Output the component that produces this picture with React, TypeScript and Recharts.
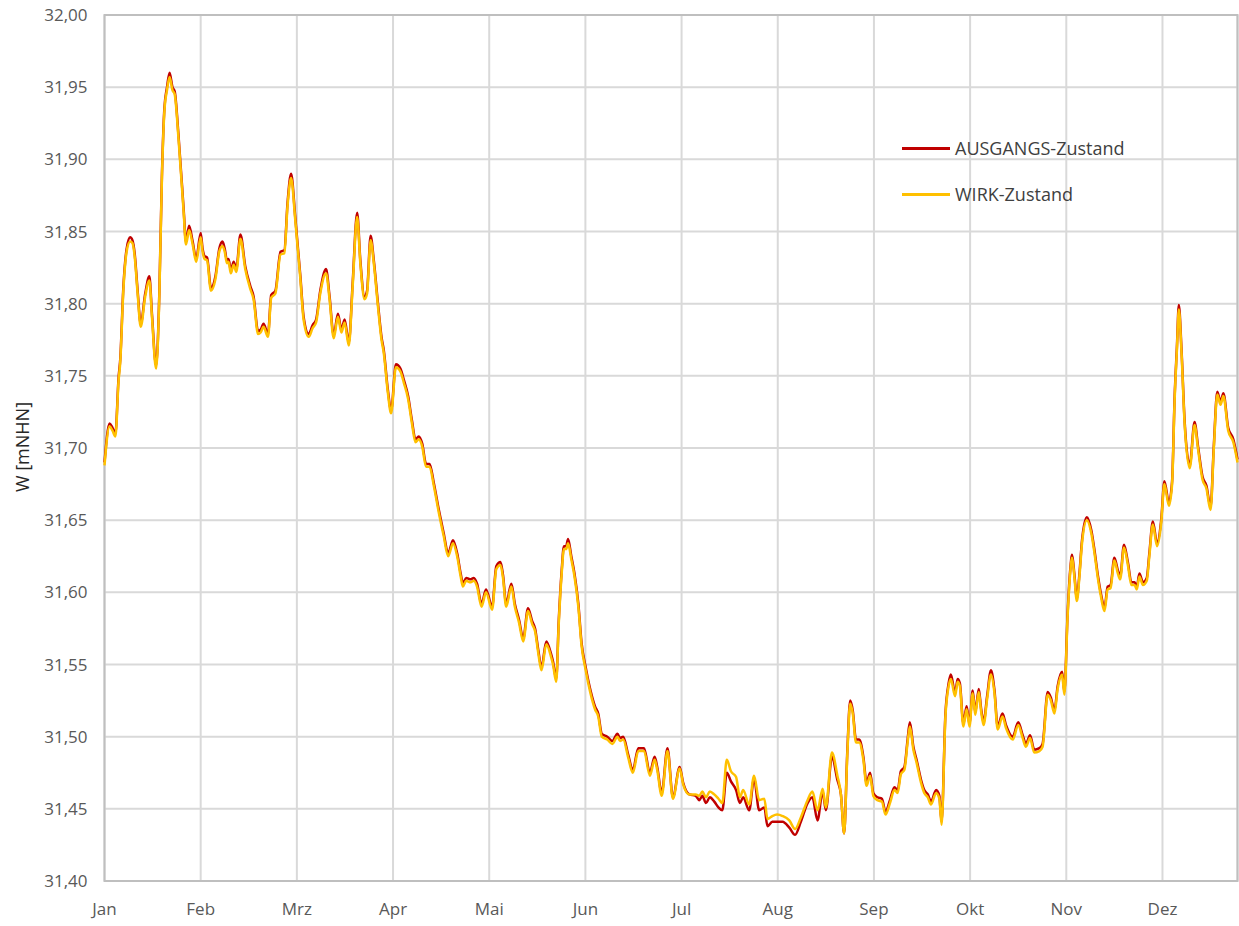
import { LineChart, Line, XAxis, YAxis, CartesianGrid, Legend, ReferenceArea } from "recharts";

// Wasserstand W [mNHN], Tageswerte (Tag ab Jahresbeginn, 30 Tage je Monatsraster)
const monate = ["Jan", "Feb", "Mrz", "Apr", "Mai", "Jun", "Jul", "Aug", "Sep", "Okt", "Nov", "Dez"];
const monatsTicks = [0, 30, 60, 90, 120, 150, 180, 210, 240, 270, 300, 330, 353.4];
const wTicks = [31.4, 31.45, 31.5, 31.55, 31.6, 31.65, 31.7, 31.75, 31.8, 31.85, 31.9, 31.95, 32.0];

const ausgangsZustand: [number, number][] = [
  [0, 31.690], [1.6, 31.717], [2.5, 31.714], [3.4, 31.710], [4.4, 31.749], [4.9, 31.761], [5.9, 31.812], [6.9, 31.838],
  [8.0, 31.846], [8.7, 31.844], [9.4, 31.835], [10.3, 31.810], [11.3, 31.786], [12.7, 31.807], [14.0, 31.819], [14.8, 31.793],
  [16.1, 31.757], [17.1, 31.807], [17.9, 31.888], [18.7, 31.936], [19.5, 31.950], [20.3, 31.960], [21.2, 31.950], [21.9, 31.947],
  [23.1, 31.916], [24.7, 31.865], [25.4, 31.843], [26.4, 31.854], [27.5, 31.843], [28.6, 31.831], [30.0, 31.849], [30.6, 31.838],
  [31.2, 31.833], [32.0, 31.832], [33.2, 31.811], [34.6, 31.819], [35.8, 31.838], [36.8, 31.843], [37.5, 31.838], [38.2, 31.830],
  [38.7, 31.831], [39.4, 31.823], [40.3, 31.829], [41.1, 31.824], [42.4, 31.848], [43.9, 31.826], [45.5, 31.812], [46.5, 31.805],
  [47.9, 31.781], [48.7, 31.782], [49.6, 31.786], [51.0, 31.779], [52.0, 31.806], [53.3, 31.809], [54.9, 31.836], [56.1, 31.837],
  [57.1, 31.870], [58.2, 31.890], [59.5, 31.860], [61.1, 31.819], [62.1, 31.791], [63.7, 31.779], [64.9, 31.785], [66.0, 31.789],
  [67.3, 31.809], [69.1, 31.824], [70.2, 31.805], [71.5, 31.778], [72.8, 31.793], [73.9, 31.782], [74.9, 31.789], [76.2, 31.773],
  [77.4, 31.814], [78.8, 31.863], [79.8, 31.830], [81.1, 31.805], [81.9, 31.809], [83.0, 31.847], [84.0, 31.830], [85.3, 31.800],
  [86.4, 31.777], [87.1, 31.768], [88.4, 31.740], [89.4, 31.726], [90.9, 31.758], [92.3, 31.755], [93.4, 31.747], [94.7, 31.736],
  [95.9, 31.719], [97.0, 31.706], [98.0, 31.708], [99.1, 31.703], [100.3, 31.689], [101.4, 31.689], [102.7, 31.676], [104.3, 31.657],
  [105.8, 31.641], [107.2, 31.627], [108.7, 31.636], [110.0, 31.627], [111.1, 31.613], [111.8, 31.606], [112.8, 31.610], [114.2, 31.609],
  [115.2, 31.610], [116.2, 31.606], [117.6, 31.592], [119.0, 31.602], [120.9, 31.590], [122.2, 31.618], [123.5, 31.621], [124.3, 31.612],
  [125.3, 31.592], [126.9, 31.606], [128.0, 31.592], [129.3, 31.581], [130.6, 31.568], [132.1, 31.589], [133.4, 31.580], [134.3, 31.575],
  [135.3, 31.560], [136.3, 31.548], [137.8, 31.566], [139.2, 31.558], [139.9, 31.552], [140.9, 31.540], [141.7, 31.581], [142.6, 31.615],
  [143.3, 31.632], [144.0, 31.632], [144.6, 31.637], [145.6, 31.625], [146.6, 31.613], [147.8, 31.592], [148.8, 31.565], [150.1, 31.548],
  [151.6, 31.532], [153.0, 31.521], [154.0, 31.516], [155.1, 31.502], [156.8, 31.500], [158.4, 31.497], [160.0, 31.502], [160.8, 31.499],
  [161.8, 31.500], [163.3, 31.488], [164.8, 31.477], [166.5, 31.492], [168.3, 31.492], [170.1, 31.475], [171.6, 31.486], [172.4, 31.479],
  [173.8, 31.461], [175.6, 31.492], [177.3, 31.458], [179.4, 31.479], [180.5, 31.468], [182.4, 31.460], [184.4, 31.459], [185.5, 31.456],
  [186.5, 31.459], [187.6, 31.454], [188.8, 31.458], [190.2, 31.455], [191.5, 31.451], [192.7, 31.449], [194.1, 31.475], [195.4, 31.469],
  [197.0, 31.463], [198.2, 31.454], [199.2, 31.458], [201.1, 31.449], [202.6, 31.471], [204.2, 31.449], [205.8, 31.451], [206.8, 31.438],
  [208.3, 31.441], [209.8, 31.441], [211.5, 31.441], [213.6, 31.437], [215.4, 31.432], [217.2, 31.441], [219.3, 31.454], [220.8, 31.458],
  [222.4, 31.442], [224.0, 31.462], [225.0, 31.449], [226.9, 31.486], [228.6, 31.470], [229.7, 31.460], [230.7, 31.433], [231.7, 31.490],
  [232.6, 31.525], [233.4, 31.518], [234.4, 31.498], [235.4, 31.498], [236.7, 31.486], [237.7, 31.468], [238.8, 31.475], [239.8, 31.461],
  [241.1, 31.458], [242.5, 31.457], [243.6, 31.448], [245.0, 31.456], [246.4, 31.465], [247.4, 31.463], [248.4, 31.476], [249.5, 31.479],
  [250.5, 31.498], [251.2, 31.510], [252.3, 31.493], [253.3, 31.484], [254.7, 31.470], [255.7, 31.463], [256.8, 31.460], [257.8, 31.455],
  [259.4, 31.463], [260.4, 31.459], [261.1, 31.441], [262.3, 31.516], [263.3, 31.537], [264.0, 31.543], [265.3, 31.530], [266.1, 31.540],
  [266.8, 31.537], [267.9, 31.509], [268.9, 31.521], [269.8, 31.509], [270.8, 31.532], [271.6, 31.517], [272.7, 31.533], [273.4, 31.520],
  [274.2, 31.510], [275.3, 31.528], [276.5, 31.546], [277.6, 31.532], [278.6, 31.507], [280.1, 31.516], [281.2, 31.508], [283.3, 31.500],
  [285.0, 31.510], [286.4, 31.501], [287.4, 31.495], [288.7, 31.501], [290.0, 31.491], [291.6, 31.492], [292.6, 31.495], [294.2, 31.531],
  [295.2, 31.527], [296.3, 31.518], [297.3, 31.535], [298.7, 31.545], [299.4, 31.531], [300.4, 31.585], [301.2, 31.615], [301.8, 31.626],
  [302.5, 31.613], [303.3, 31.596], [304.1, 31.613], [304.9, 31.636], [306.4, 31.652], [307.8, 31.643], [308.8, 31.629], [309.9, 31.611],
  [310.9, 31.598], [311.9, 31.589], [312.9, 31.604], [313.8, 31.605], [315.0, 31.624], [316.1, 31.615], [316.8, 31.611], [318.0, 31.633],
  [319.2, 31.621], [320.3, 31.607], [321.3, 31.607], [322.0, 31.604], [322.8, 31.613], [323.9, 31.607], [325.1, 31.610], [325.9, 31.627],
  [327.0, 31.649], [328.3, 31.634], [329.6, 31.650], [330.6, 31.677], [332.0, 31.662], [333.0, 31.677], [333.8, 31.736], [334.5, 31.770],
  [335.1, 31.799], [335.9, 31.770], [336.9, 31.719], [338.5, 31.688], [340.0, 31.718], [341.1, 31.701], [342.5, 31.680], [343.7, 31.674],
  [345.0, 31.659], [346.0, 31.701], [347.1, 31.739], [348.1, 31.732], [349.0, 31.738], [350.5, 31.714], [352.1, 31.706], [353.4, 31.692],
];

const wirkZustand: [number, number][] = [
  [0, 31.688], [1.6, 31.715], [2.5, 31.712], [3.4, 31.708], [4.4, 31.747], [4.9, 31.759], [5.9, 31.810], [6.9, 31.836],
  [8.0, 31.843], [8.7, 31.842], [9.4, 31.833], [10.3, 31.808], [11.3, 31.784], [12.7, 31.805], [14.0, 31.816], [14.8, 31.791],
  [16.1, 31.755], [17.1, 31.805], [17.9, 31.886], [18.7, 31.934], [19.5, 31.948], [20.3, 31.957], [21.2, 31.948], [21.9, 31.945],
  [23.1, 31.914], [24.7, 31.863], [25.4, 31.841], [26.4, 31.851], [27.5, 31.841], [28.6, 31.829], [30.0, 31.846], [30.6, 31.836],
  [31.2, 31.831], [32.0, 31.830], [33.2, 31.809], [34.6, 31.817], [35.8, 31.836], [36.8, 31.840], [37.5, 31.836], [38.2, 31.828],
  [38.7, 31.829], [39.4, 31.821], [40.3, 31.827], [41.1, 31.822], [42.4, 31.845], [43.9, 31.824], [45.5, 31.810], [46.5, 31.803],
  [47.9, 31.779], [48.7, 31.780], [49.6, 31.784], [51.0, 31.777], [52.0, 31.804], [53.3, 31.807], [54.9, 31.834], [56.1, 31.835],
  [57.1, 31.868], [58.2, 31.887], [59.5, 31.858], [61.1, 31.817], [62.1, 31.789], [63.7, 31.777], [64.9, 31.783], [66.0, 31.787],
  [67.3, 31.807], [69.1, 31.821], [70.2, 31.803], [71.5, 31.776], [72.8, 31.791], [73.9, 31.780], [74.9, 31.787], [76.2, 31.771],
  [77.4, 31.812], [78.8, 31.860], [79.8, 31.828], [81.1, 31.803], [81.9, 31.807], [83.0, 31.844], [84.0, 31.828], [85.3, 31.798],
  [86.4, 31.775], [87.1, 31.766], [88.4, 31.738], [89.4, 31.724], [90.9, 31.756], [92.3, 31.753], [93.4, 31.745], [94.7, 31.734],
  [95.9, 31.717], [97.0, 31.704], [98.0, 31.706], [99.1, 31.701], [100.3, 31.687], [101.4, 31.687], [102.7, 31.674], [104.3, 31.655],
  [105.8, 31.639], [107.2, 31.625], [108.7, 31.634], [110.0, 31.625], [111.1, 31.611], [111.8, 31.604], [112.8, 31.608], [114.2, 31.607],
  [115.2, 31.608], [116.2, 31.604], [117.6, 31.590], [119.0, 31.600], [120.9, 31.588], [122.2, 31.616], [123.5, 31.619], [124.3, 31.610],
  [125.3, 31.590], [126.9, 31.604], [128.0, 31.590], [129.3, 31.579], [130.6, 31.566], [132.1, 31.587], [133.4, 31.578], [134.3, 31.573],
  [135.3, 31.558], [136.3, 31.546], [137.8, 31.564], [139.2, 31.556], [139.9, 31.550], [140.9, 31.538], [141.7, 31.579], [142.6, 31.613],
  [143.3, 31.630], [144.0, 31.630], [144.6, 31.634], [145.6, 31.623], [146.6, 31.611], [147.8, 31.590], [148.8, 31.563], [150.1, 31.546],
  [151.6, 31.530], [153.0, 31.519], [154.0, 31.514], [155.1, 31.500], [156.8, 31.498], [158.4, 31.495], [160.0, 31.500], [160.8, 31.497],
  [161.8, 31.498], [163.3, 31.486], [164.8, 31.475], [166.5, 31.490], [168.3, 31.490], [170.1, 31.473], [171.6, 31.484], [172.4, 31.477],
  [173.8, 31.459], [175.6, 31.490], [177.3, 31.457], [179.4, 31.478], [180.5, 31.467], [182.4, 31.460], [184.4, 31.460], [185.5, 31.459],
  [186.5, 31.462], [187.6, 31.458], [188.8, 31.462], [190.2, 31.460], [191.5, 31.457], [192.7, 31.454], [194.1, 31.484], [195.4, 31.476],
  [197.0, 31.472], [198.2, 31.458], [199.2, 31.463], [201.1, 31.453], [202.6, 31.473], [204.2, 31.456], [205.8, 31.457], [206.8, 31.443],
  [208.3, 31.445], [209.8, 31.446], [211.5, 31.445], [213.6, 31.442], [215.4, 31.436], [217.2, 31.444], [219.3, 31.456], [220.8, 31.462],
  [222.4, 31.449], [224.0, 31.464], [225.0, 31.451], [226.9, 31.489], [228.6, 31.473], [229.7, 31.460], [230.7, 31.433], [231.7, 31.488],
  [232.6, 31.523], [233.4, 31.516], [234.4, 31.496], [235.4, 31.496], [236.7, 31.484], [237.7, 31.466], [238.8, 31.473], [239.8, 31.459],
  [241.1, 31.456], [242.5, 31.455], [243.6, 31.446], [245.0, 31.454], [246.4, 31.463], [247.4, 31.461], [248.4, 31.474], [249.5, 31.477],
  [250.5, 31.496], [251.2, 31.507], [252.3, 31.491], [253.3, 31.482], [254.7, 31.468], [255.7, 31.461], [256.8, 31.458], [257.8, 31.453],
  [259.4, 31.461], [260.4, 31.457], [261.1, 31.439], [262.3, 31.514], [263.3, 31.535], [264.0, 31.540], [265.3, 31.528], [266.1, 31.538],
  [266.8, 31.535], [267.9, 31.507], [268.9, 31.519], [269.8, 31.507], [270.8, 31.530], [271.6, 31.515], [272.7, 31.531], [273.4, 31.518],
  [274.2, 31.508], [275.3, 31.526], [276.5, 31.543], [277.6, 31.530], [278.6, 31.505], [280.1, 31.514], [281.2, 31.506], [283.3, 31.498],
  [285.0, 31.508], [286.4, 31.499], [287.4, 31.493], [288.7, 31.499], [290.0, 31.489], [291.6, 31.490], [292.6, 31.493], [294.2, 31.529],
  [295.2, 31.525], [296.3, 31.516], [297.3, 31.533], [298.7, 31.543], [299.4, 31.529], [300.4, 31.583], [301.2, 31.613], [301.8, 31.624],
  [302.5, 31.611], [303.3, 31.594], [304.1, 31.611], [304.9, 31.634], [306.4, 31.650], [307.8, 31.641], [308.8, 31.627], [309.9, 31.609],
  [310.9, 31.596], [311.9, 31.587], [312.9, 31.602], [313.8, 31.603], [315.0, 31.622], [316.1, 31.613], [316.8, 31.609], [318.0, 31.631],
  [319.2, 31.619], [320.3, 31.605], [321.3, 31.605], [322.0, 31.602], [322.8, 31.611], [323.9, 31.605], [325.1, 31.608], [325.9, 31.625],
  [327.0, 31.647], [328.3, 31.632], [329.6, 31.648], [330.6, 31.675], [332.0, 31.660], [333.0, 31.675], [333.8, 31.734], [334.5, 31.768],
  [335.1, 31.796], [335.9, 31.768], [336.9, 31.717], [338.5, 31.686], [340.0, 31.716], [341.1, 31.699], [342.5, 31.678], [343.7, 31.672],
  [345.0, 31.657], [346.0, 31.699], [347.1, 31.737], [348.1, 31.730], [349.0, 31.736], [350.5, 31.712], [352.1, 31.704], [353.4, 31.690],
];

const serien = [
  { name: "AUSGANGS-Zustand", farbe: "#C00000", werte: ausgangsZustand },
  { name: "WIRK-Zustand", farbe: "#FFC000", werte: wirkZustand },
];

const FONT = "'Open Sans', 'Liberation Sans', sans-serif";

function Legende() {
  return (
    <div style={{ fontFamily: FONT, fontSize: 18, color: "#404040" }}>
      {serien.map((s) => (
        <div key={s.name} style={{ display: "flex", alignItems: "center", height: 46 }}>
          <span style={{ display: "inline-block", width: 48, height: 3, background: s.farbe, marginRight: 5 }} />
          <span>{s.name}</span>
        </div>
      ))}
    </div>
  );
}

export default function App() {
  return (
    <div style={{ position: "absolute", left: 0, top: 0, width: 1239, height: 926, background: "#fff" }}>
      <LineChart width={1239} height={926} margin={{ top: 15, right: 1.5, bottom: 0, left: 0 }}>
        <CartesianGrid stroke="#d9d9d9" strokeWidth={2} />
        <XAxis
          type="number"
          dataKey="tag"
          domain={[0, 353.4]}
          ticks={monatsTicks}
          tickFormatter={(v: number) => monate[Math.round(v / 30)] ?? ""}
          axisLine={false}
          tickLine={false}
          tickSize={0}
          tickMargin={22}
          height={45}
          tick={{ fill: "#595959", fontSize: 17, fontFamily: FONT }}
          allowDuplicatedCategory={false}
        />
        <YAxis
          type="number"
          domain={[31.4, 32]}
          ticks={wTicks}
          tickFormatter={(v: number) => v.toFixed(2).replace(".", ",")}
          axisLine={false}
          tickLine={false}
          tickSize={0}
          tickMargin={17}
          width={104.5}
          tick={{ fill: "#595959", fontSize: 17, fontFamily: FONT }}
          label={{
            content: () => (
              <text
                x={22}
                y={447}
                transform="rotate(-90 22 447)"
                textAnchor="middle"
                dominantBaseline="central"
                fill="#262626"
                fontSize={18}
                fontFamily={FONT}
              >
                W [mNHN]
              </text>
            ),
          }}
        />
        <ReferenceArea x1={0} x2={353.4} y1={31.4} y2={32} fill="none" stroke="#bfbfbf" strokeWidth={2} ifOverflow="visible" />
        {serien.map((s) => (
          <Line
            key={s.name}
            data={s.werte.map(([tag, w]) => ({ tag, w }))}
            dataKey="w"
            name={s.name}
            type="monotone"
            stroke={s.farbe}
            strokeWidth={2.5}
            dot={false}
            activeDot={false}
            isAnimationActive={false}
          />
        ))}
        <Legend
          layout="horizontal"
          verticalAlign="middle"
          align="center"
          wrapperStyle={{ top: 125, left: 902, width: 280 }}
          content={() => <Legende />}
        />
      </LineChart>
    </div>
  );
}
